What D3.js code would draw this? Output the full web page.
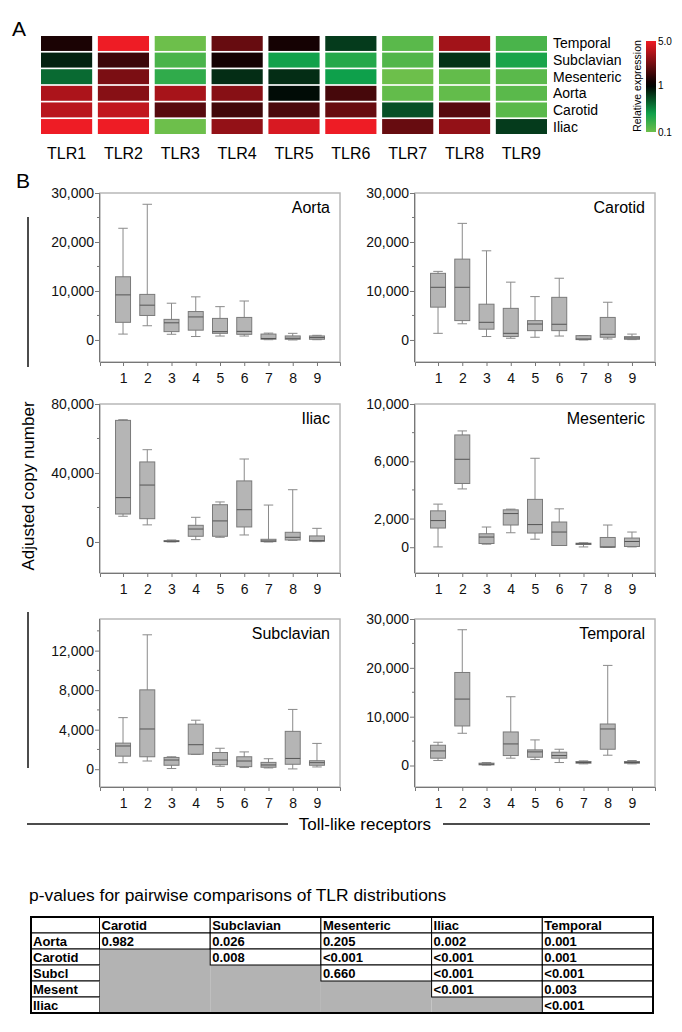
<!DOCTYPE html>
<html><head><meta charset="utf-8">
<script src="https://cdn.jsdelivr.net/npm/d3@7"></script>
<style>
body{margin:0;background:#fff;}
svg{display:block;font-family:"Liberation Sans",Arial,sans-serif;}
</style></head>
<body><svg id="c" width="682" height="1032"></svg>
<script>
// ---------- DATA ----------
const tlrs = ["TLR1","TLR2","TLR3","TLR4","TLR5","TLR6","TLR7","TLR8","TLR9"];
const heatRows = ["Temporal","Subclavian","Mesenteric","Aorta","Carotid","Iliac"];
const heatTemporal   = [1.2, 5.0, 0.1, 2.0, 1.15, 0.6, 0.12, 3.0, 0.14];
const heatSubclavian = [0.75, 1.5, 0.14, 1.15, 0.24, 0.2, 0.13, 0.65, 0.22];
const heatMesenteric = [0.4, 2.3, 0.18, 0.68, 0.68, 0.25, 0.1, 0.11, 0.12];
const heatAorta      = [3.2, 2.5, 3.1, 2.5, 0.9, 1.6, 0.11, 0.11, 0.12];
const heatCarotid    = [3.5, 3.7, 1.8, 1.55, 1.65, 2.0, 0.5, 1.8, 0.12];
const heatIliac      = [5.0, 5.0, 0.1, 2.7, 4.3, 5.0, 2.0, 2.7, 0.6];
const colorbarTicks = [{v:5,label:"5.0"},{v:1,label:"1"},{v:0.1,label:"0.1"}];

const receptors = ["1","2","3","4","5","6","7","8","9"];
// [min, q1, median, q3, max]
const aortaStats = [[1200,3600,9200,12900,22800],[2900,5000,7100,9300,27700],[1160,1700,3500,4200,7500],[700,2000,4700,5800,8800],[800,1350,1700,4400,6800],[800,1150,1750,4600,7950],[50,150,300,1200,1400],[0,140,340,820,1350],[50,140,480,820,950]];
const carotidStats = [[1350,6700,10750,13600,14000],[3300,3950,10750,16500,23800],[700,2200,3600,7300,18200],[350,700,1350,6450,11800],[550,1900,3250,3950,8850],[800,1900,3200,8700,12600],[0,70,200,880,900],[200,550,1150,4600,7700],[70,140,400,680,1200]];
const iliacStats = [[14900,16200,25700,70500,70900],[9900,13500,33000,46400,53500],[0,190,400,770,1150],[1350,3300,7500,9650,14300],[2700,3300,12200,21600,23200],[4050,8700,18700,35400,48100],[0,190,580,1550,21400],[970,1150,2700,5600,30300],[190,390,770,3500,7900]];
const mesentericStats = [[20,1340,1860,2540,3010],[4070,4450,6140,7840,8120],[210,260,710,940,1410],[1010,1550,2350,2610,2660],[560,990,1580,3340,6210],[120,120,1060,1760,2680],[20,190,240,280,310],[0,0,20,680,1550],[20,50,400,640,1060]];
const subclavianStats = [[660,1320,2350,2640,5220],[830,1260,4070,8030,13600],[70,400,930,1190,1260],[1490,1520,2480,4560,4960],[300,460,930,1690,2120],[170,260,830,1260,1750],[130,200,430,690,1060],[30,500,1090,3830,6050],[230,400,660,860,2610]];
const temporalStats = [[1020,1500,2990,4150,4760],[6600,8100,13600,19050,27800],[70,140,270,480,610],[1500,2040,4420,6870,14080],[1220,1700,2790,3200,5240],[610,1500,2040,2720,3330],[340,480,610,820,950],[2110,3330,7480,8500,20500],[340,480,610,820,1020]];

const tableCols = ["Carotid","Subclavian","Mesenteric","Iliac","Temporal"];
const tableRows = ["Aorta","Carotid","Subcl","Mesent","Iliac"];
const pAorta   = ["0.982","0.026","0.205","0.002","0.001"];
const pCarotid = [null,"0.008","<0.001","<0.001","0.001"];
const pSubcl   = [null,null,"0.660","<0.001","<0.001"];
const pMesent  = [null,null,null,"<0.001","0.003"];
const pIliac   = [null,null,null,null,"<0.001"];

// ---------- DRAW ----------
const svg = d3.select("#c");
const FONT = '"Liberation Sans",Arial,sans-serif';

// Panel A
svg.append("text").attr("x",12).attr("y",36).attr("font-size",21).text("A");
const heatData = [heatTemporal,heatSubclavian,heatMesenteric,heatAorta,heatCarotid,heatIliac];
const hx = d3.scaleBand().domain(tlrs).range([41,547]).paddingInner(0.1);
const hy = d3.scaleBand().domain(heatRows).range([36,134]).paddingInner(0.1);
const hcol = d3.scaleLog().domain([0.1,0.25,1,5]).range(["#6dbf4b","#0ea04b","#000000","#ee1c25"]).interpolate(d3.interpolateRgb).clamp(true);
heatRows.forEach((r,i)=>{
  svg.append("g").selectAll("rect").data(heatData[i]).join("rect")
    .attr("x",(d,j)=>hx(tlrs[j])).attr("y",hy(r)).attr("width",hx.bandwidth()).attr("height",hy.bandwidth())
    .attr("fill",d=>hcol(d));
  svg.append("text").attr("x",553).attr("y",hy(r)+hy.bandwidth()/2+5).attr("font-size",14).text(r);
});
svg.append("g").selectAll("text").data(tlrs).join("text")
  .attr("x",d=>hx(d)+hx.bandwidth()/2).attr("y",159).attr("text-anchor","middle").attr("font-size",16).text(d=>d);

// colorbar
const cbY = d3.scaleLog().domain([0.1,1,5]).range([132,85,41]);
const defs = svg.append("defs");
const grad = defs.append("linearGradient").attr("id","cb").attr("x1",0).attr("x2",0).attr("y1",1).attr("y2",0);
d3.range(0,1.0001,0.05).forEach(t=>{
  const yy = 132 - t*91;
  const v = cbY.invert(yy);
  grad.append("stop").attr("offset",t).attr("stop-color",hcol(v));
});
svg.append("rect").attr("x",646).attr("y",41).attr("width",10).attr("height",91).attr("fill","url(#cb)");
svg.append("g").selectAll("text").data(colorbarTicks).join("text")
  .attr("x",658).attr("y",d=>cbY(d.v)+4).attr("font-size",10).text(d=>d.label);
svg.append("text").attr("transform","translate(641,86) rotate(-90)").attr("text-anchor","middle").attr("font-size",10.5).text("Relative expression");

// Panel B
svg.append("text").attr("x",16).attr("y",188).attr("font-size",21).text("B");

const panels = [
  {name:"Aorta", data:aortaStats, x0:100, y0:193, y1:362, dom:[-4500,30000], major:[0,10000,20000,30000], minor:[5000,15000,25000]},
  {name:"Carotid", data:carotidStats, x0:415, y0:193, y1:362, dom:[-4500,30000], major:[0,10000,20000,30000], minor:[5000,15000,25000]},
  {name:"Iliac", data:iliacStats, x0:100, y0:404, y1:573, dom:[-18000,80000], major:[0,40000,80000], minor:[20000,60000]},
  {name:"Mesenteric", data:mesentericStats, x0:415, y0:404, y1:573, dom:[-1800,10000], major:[0,2000,6000,10000], minor:[4000,8000]},
  {name:"Subclavian", data:subclavianStats, x0:100, y0:619, y1:787, dom:[-1800,15200], major:[0,4000,8000,12000], minor:[2000,6000,10000,14000]},
  {name:"Temporal", data:temporalStats, x0:415, y0:619, y1:787, dom:[-4400,30000], major:[0,10000,20000,30000], minor:[5000,15000,25000]}
];
const W = 240;
panels.forEach(p=>{
  const g = svg.append("g");
  const x = d3.scalePoint().domain(receptors).range([p.x0,p.x0+W]).padding(0.95);
  const y = d3.scaleLinear().domain(p.dom).range([p.y1,p.y0]);
  g.append("rect").attr("x",p.x0).attr("y",p.y0).attr("width",W).attr("height",p.y1-p.y0)
    .attr("fill","none").attr("stroke","#b8b8b8").attr("stroke-width",1.5);
  const ya = d3.axisLeft(y).tickValues(p.major).tickSize(5).tickFormat(d3.format(","));
  const yg = g.append("g").attr("transform",`translate(${p.x0},0)`).call(ya);
  yg.select(".domain").attr("stroke","#777").attr("d",`M-0.5,${p.y1}V${p.y0}`);
  yg.selectAll(".tick line").attr("stroke","#777");
  yg.selectAll(".tick text").attr("font-size",14).attr("font-family",FONT).attr("fill","#111").attr("x",-6);
  g.append("g").selectAll("line").data(p.minor).join("line")
    .attr("x1",p.x0-3).attr("x2",p.x0).attr("y1",d=>y(d)).attr("y2",d=>y(d)).attr("stroke","#777");
  const xa = d3.axisBottom(x).tickSize(4).tickSizeOuter(4);
  const xg = g.append("g").attr("transform",`translate(0,${p.y1})`).call(xa);
  xg.select(".domain").attr("stroke","#777");
  xg.selectAll(".tick line").attr("stroke","#777");
  xg.selectAll(".tick text").attr("font-size",14).attr("font-family",FONT).attr("fill","#111").attr("dy","1.0em");
  const bw = 15, cw = 9.5;
  const bx = g.append("g").selectAll("g").data(p.data).join("g")
    .attr("transform",(d,i)=>`translate(${x(receptors[i])},0)`);
  bx.append("line").attr("x1",0).attr("x2",0).attr("y1",d=>y(d[4])).attr("y2",d=>y(d[0])).attr("stroke","#8a8a8a");
  bx.append("line").attr("x1",-cw/2).attr("x2",cw/2).attr("y1",d=>y(d[4])).attr("y2",d=>y(d[4])).attr("stroke","#8a8a8a");
  bx.append("line").attr("x1",-cw/2).attr("x2",cw/2).attr("y1",d=>y(d[0])).attr("y2",d=>y(d[0])).attr("stroke","#8a8a8a");
  bx.append("rect").attr("x",-bw/2).attr("width",bw).attr("y",d=>y(d[3])).attr("height",d=>Math.max(1,y(d[1])-y(d[3])))
    .attr("fill","#b5b5b5").attr("stroke","#7a7a7a");
  bx.append("line").attr("x1",-bw/2).attr("x2",bw/2).attr("y1",d=>y(d[2])).attr("y2",d=>y(d[2])).attr("stroke","#555");
  g.append("text").attr("x",p.x0+W-10).attr("y",p.y0+20).attr("text-anchor","end").attr("font-size",16).text(p.name);
});

svg.append("line").attr("x1",28).attr("x2",28).attr("y1",217).attr("y2",367).attr("stroke","#111").attr("stroke-width",1.5);
svg.append("line").attr("x1",28).attr("x2",28).attr("y1",612).attr("y2",768).attr("stroke","#111").attr("stroke-width",1.5);
svg.append("text").attr("transform","translate(34,486) rotate(-90)").attr("text-anchor","middle").attr("font-size",17).text("Adjusted copy number");
svg.append("line").attr("x1",27).attr("x2",288).attr("y1",824).attr("y2",824).attr("stroke","#111").attr("stroke-width",1.5);
svg.append("line").attr("x1",443).attr("x2",650).attr("y1",824).attr("y2",824).attr("stroke","#111").attr("stroke-width",1.5);
svg.append("text").attr("x",365).attr("y",830).attr("text-anchor","middle").attr("font-size",17).text("Toll-like receptors");

// Table
svg.append("text").attr("x",29).attr("y",901).attr("font-size",17.4).text("p-values for pairwise comparisons of TLR distributions");
const pRows = [pAorta,pCarotid,pSubcl,pMesent,pIliac];
const tx = d3.scaleBand().domain(tableCols).range([99.5,653]);
const ty = d3.scaleBand().domain(["_h"].concat(tableRows)).range([917,1013]);
const tg = svg.append("g").attr("font-size",13).attr("font-weight","bold");
tg.append("rect").attr("x",31).attr("y",ty("_h")).attr("width",68.5).attr("height",ty.bandwidth()).attr("fill","#fff").attr("stroke","#000");
tableCols.forEach(c=>{
  tg.append("rect").attr("x",tx(c)).attr("y",ty("_h")).attr("width",tx.bandwidth()).attr("height",ty.bandwidth()).attr("fill","#fff").attr("stroke","#000");
  tg.append("text").attr("x",tx(c)+2).attr("y",ty("_h")+13).text(c);
});
tableRows.forEach((r,i)=>{
  tg.append("rect").attr("x",31).attr("y",ty(r)).attr("width",68.5).attr("height",ty.bandwidth()).attr("fill","#fff").attr("stroke","#000");
  tg.append("text").attr("x",33).attr("y",ty(r)+13).text(r);
  pRows[i].forEach((v,j)=>{
    const c = tableCols[j];
    if(v===null){
      tg.append("rect").attr("x",tx(c)).attr("y",ty(r)).attr("width",tx.bandwidth()).attr("height",ty.bandwidth()).attr("fill","#b3b3b3");
    }
  });
});
tableRows.forEach((r,i)=>{
  pRows[i].forEach((v,j)=>{
    const c = tableCols[j];
    if(v!==null){
      tg.append("rect").attr("x",tx(c)).attr("y",ty(r)).attr("width",tx.bandwidth()).attr("height",ty.bandwidth()).attr("fill","#fff").attr("stroke","#000");
      tg.append("text").attr("x",tx(c)+2).attr("y",ty(r)+13).text(v);
    }
  });
});
tg.append("rect").attr("x",31).attr("y",917).attr("width",622).attr("height",96).attr("fill","none").attr("stroke","#000").attr("stroke-width",2);
</script></body></html>
